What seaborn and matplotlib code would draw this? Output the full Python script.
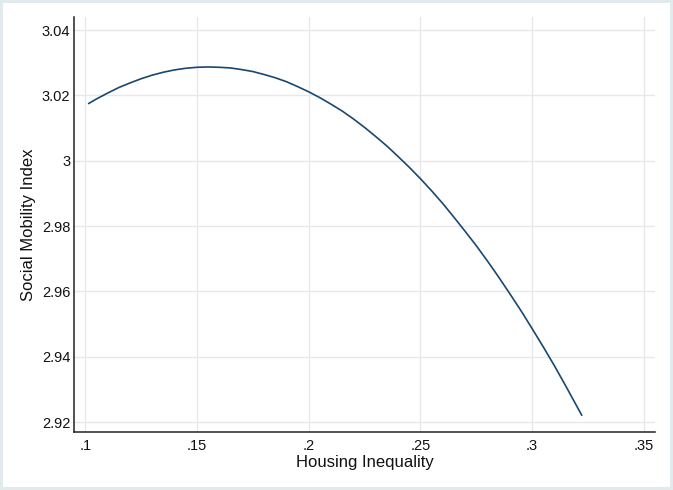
import matplotlib
matplotlib.use('Agg')
import matplotlib.pyplot as plt
import seaborn as sns

# 읽어낸 곡선 좌표 (Housing Inequality vs Social Mobility Index)
housing_ineq = [0.1015, 0.105, 0.11, 0.115, 0.12, 0.125, 0.13, 0.135, 0.14, 0.145,
                0.15, 0.155, 0.16, 0.165, 0.17, 0.175, 0.18, 0.185, 0.19, 0.195,
                0.20, 0.205, 0.21, 0.215, 0.22, 0.225, 0.23, 0.235, 0.24, 0.245,
                0.25, 0.255, 0.26, 0.265, 0.27, 0.275, 0.28, 0.285, 0.29, 0.295,
                0.30, 0.305, 0.31, 0.315, 0.3222]
mobility_idx = [3.0175, 3.0189, 3.0207, 3.0224, 3.0238, 3.0251, 3.0262, 3.0271, 3.0278, 3.0283,
                3.0286, 3.0287, 3.0286, 3.0284, 3.0279, 3.0273, 3.0264, 3.0254, 3.0242, 3.0227,
                3.0211, 3.0193, 3.0173, 3.0152, 3.0128, 3.0102, 3.0074, 3.0045, 3.0013, 2.9980,
                2.9945, 2.9908, 2.9869, 2.9827, 2.9784, 2.9740, 2.9693, 2.9644, 2.9593, 2.9541,
                2.9486, 2.9430, 2.9372, 2.9311, 2.9221]

x_ticks = [0.10, 0.15, 0.20, 0.25, 0.30, 0.35]
x_tick_labels = ['.1', '.15', '.2', '.25', '.3', '.35']
y_ticks = [2.92, 2.94, 2.96, 2.98, 3.00, 3.02, 3.04]
y_tick_labels = ['2.92', '2.94', '2.96', '2.98', '3', '3.02', '3.04']

sns.set_style('white')
plt.rcParams['font.family'] = ['Liberation Sans', 'DejaVu Sans']

fig = plt.figure(figsize=(6.73, 4.90), dpi=100)
fig.patch.set_facecolor('white')
fig.patch.set_edgecolor('#e3eaee')
fig.patch.set_linewidth(4)
ax = fig.add_axes([0.1104, 0.1178, 0.8633, 0.8469])

sns.lineplot(x=housing_ineq, y=mobility_idx, color='#1a476f', linewidth=1.2, ax=ax)

ax.set_xlim(0.0951, 0.3551)
ax.set_ylim(2.9169, 3.0439)
ax.set_xticks(x_ticks)
ax.set_xticklabels(x_tick_labels)
ax.set_yticks(y_ticks)
ax.set_yticklabels(y_tick_labels)
ax.tick_params(axis='both', length=0, labelsize=10.5, colors='#111111')
ax.tick_params(axis='x', pad=5)
ax.tick_params(axis='y', pad=3)

ax.grid(True, color='#e8e8e8', linewidth=1.0)
ax.set_axisbelow(True)

for side in ['top', 'right']:
    ax.spines[side].set_visible(False)
for side in ['left', 'bottom']:
    ax.spines[side].set_color('#222222')
    ax.spines[side].set_linewidth(1.1)

ax.set_xlabel('Housing Inequality', fontsize=12, labelpad=1, color='#111111')
ax.set_ylabel('Social Mobility Index', fontsize=12, labelpad=4, color='#111111')

fig.savefig('out.png', dpi=100, facecolor=fig.get_facecolor(), edgecolor=fig.get_edgecolor())
